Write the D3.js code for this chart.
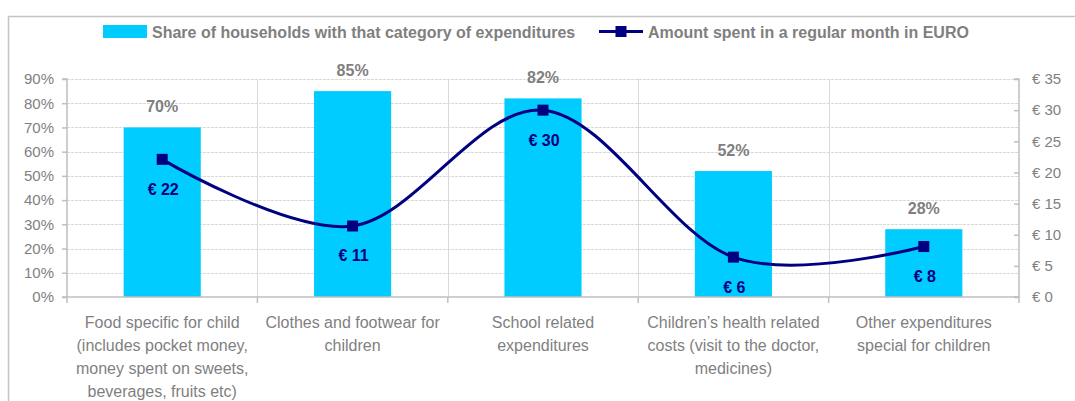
<!DOCTYPE html>
<html>
<head>
<meta charset="utf-8">
<script src="https://cdn.jsdelivr.net/npm/d3@7"></script>
<style>
  html, body { margin: 0; padding: 0; background: #fff; }
  svg { display: block; font-family: "Liberation Sans", Arial, sans-serif; }
</style>
</head>
<body>
<svg id="chart" width="1075" height="401"></svg>
<script>
// ---- data ----
const categories = [
  ["Food specific for child", "(includes pocket money,", "money spent on sweets,", "beverages, fruits etc)"],
  ["Clothes and footwear for", "children"],
  ["School related", "expenditures"],
  ["Children\u2019s health related", "costs (visit to the doctor,", "medicines)"],
  ["Other expenditures", "special for children"]
];
const shareValues = [70, 85, 82, 52, 28];          // % of households
const amountValues = [22.1, 11.4, 30.0, 6.4, 8.1];  // EURO per month
const leftTicks = [0, 10, 20, 30, 40, 50, 60, 70, 80, 90];
const rightTicks = [0, 5, 10, 15, 20, 25, 30, 35];
const seriesNames = ["Share of households with that category of expenditures",
                     "Amount spent in a regular month in EURO"];

// ---- styles ----
const barColor = "#00CCFF";
const lineColor = "#000080";
const textGray = "#7F7F7F";
const axisGray = "#BFBFBF";
const gridGray = "#D9D9D9";

const svg = d3.select("#chart");
const L = 67, R = 1019, T = 79, B = 297;

// outer border
svg.append("rect").attr("x", 8.5).attr("y", 16.5).attr("width", 1200).attr("height", 500)
  .attr("fill", "none").attr("stroke", "#C4C4C4").attr("stroke-width", 1.5);

const idx = categories.map((d, i) => i);
const xCat = d3.scaleBand().domain(idx).range([L, R]).padding(0);
const xBar = d3.scaleBand().domain(idx).range([L, R]).paddingInner(0.595).paddingOuter(0.2975);
const yL = d3.scaleLinear().domain([0, 90]).range([B, T]);
const yR = d3.scaleLinear().domain([0, 35]).range([B, T]);
const cx = i => xCat(i) + xCat.bandwidth() / 2;

// horizontal gridlines
svg.append("g").selectAll("line").data(leftTicks.filter(t => t > 0)).join("line")
  .attr("x1", L).attr("x2", R)
  .attr("y1", d => Math.round(yL(d)) + 0.5).attr("y2", d => Math.round(yL(d)) + 0.5)
  .attr("stroke", gridGray).attr("stroke-width", 1).attr("stroke-dasharray", "3,1");

// vertical gridlines at category boundaries
svg.append("g").selectAll("line").data(idx.slice(1)).join("line")
  .attr("x1", d => Math.round(xCat(d)) + 0.5).attr("x2", d => Math.round(xCat(d)) + 0.5)
  .attr("y1", T).attr("y2", B)
  .attr("stroke", gridGray).attr("stroke-width", 1);

// bars
svg.append("g").selectAll("rect").data(shareValues).join("rect")
  .attr("x", (d, i) => xBar(i)).attr("width", xBar.bandwidth())
  .attr("y", d => yL(d)).attr("height", d => B - yL(d))
  .attr("fill", barColor);

// bar labels
svg.append("g").selectAll("text").data(shareValues).join("text")
  .attr("x", (d, i) => cx(i)).attr("y", d => yL(d) - 15.5)
  .attr("text-anchor", "middle").attr("fill", textGray)
  .attr("font-weight", "bold").attr("font-size", "16px")
  .text(d => d + "%");

// axes
const axisG = svg.append("g");
// left axis
const leftAxis = d3.axisLeft(yL).tickValues(leftTicks).tickSize(5).tickPadding(8).tickFormat(d => d + "%");
const gl = svg.append("g").attr("transform", `translate(${L},0)`).call(leftAxis);
// right axis (ticks inside)
const rightAxis = d3.axisRight(yR).tickValues(rightTicks).tickSize(-5).tickPadding(13).tickFormat(d => "\u20AC " + d);
const gr = svg.append("g").attr("transform", `translate(${R},0)`).call(rightAxis);
// bottom axis
const bottomAxis = d3.axisBottom(xCat).tickValues([]).tickSize(0);
const gb = svg.append("g").attr("transform", `translate(0,${B})`).call(bottomAxis);
gb.selectAll("line.bt").data(idx.concat([idx.length])).join("line").attr("class", "bt")
  .attr("x1", d => d < idx.length ? xCat(d) : R).attr("x2", d => d < idx.length ? xCat(d) : R)
  .attr("y1", 0).attr("y2", 6).attr("stroke", axisGray).attr("stroke-width", 1.5);

[gl, gr, gb].forEach(g => {
  g.select(".domain").attr("stroke", axisGray).attr("stroke-width", 1.5);
  g.selectAll(".tick line").attr("stroke", axisGray).attr("stroke-width", 1.5);
  g.selectAll(".tick text").attr("fill", textGray).attr("font-size", "15px")
    .attr("font-family", "'Liberation Sans', Arial, sans-serif");
});
gl.select(".domain").attr("d", `M-5,${T}H0V${B}H-5`);
gr.select(".domain").attr("d", `M-5,${T}H0V${B}H-5`);
gb.select(".domain").attr("d", `M${L},0H${R}`);

// category labels
const catG = svg.append("g");
categories.forEach((lines, i) => {
  const t = catG.append("text").attr("text-anchor", "middle").attr("fill", textGray)
    .attr("font-size", "16px");
  lines.forEach((ln, j) => {
    t.append("tspan").attr("x", cx(i)).attr("y", 327.5 + j * 23).text(ln);
  });
});

// line series
const line = d3.line().x((d, i) => cx(i)).y(d => yR(d)).curve(d3.curveCardinal.tension(0));
svg.append("path").datum(amountValues).attr("d", line)
  .attr("fill", "none").attr("stroke", lineColor).attr("stroke-width", 3);
const ms = 11;
svg.append("g").selectAll("rect").data(amountValues).join("rect")
  .attr("x", (d, i) => cx(i) - ms / 2).attr("y", d => yR(d) - ms / 2)
  .attr("width", ms).attr("height", ms).attr("fill", lineColor);
svg.append("g").selectAll("text").data(amountValues).join("text")
  .attr("x", (d, i) => cx(i) + 1).attr("y", d => yR(d) + 35.5)
  .attr("text-anchor", "middle").attr("fill", lineColor)
  .attr("font-weight", "bold").attr("font-size", "16px")
  .text(d => "\u20AC " + Math.round(d));

// legend
const lg = svg.append("g");
lg.append("rect").attr("x", 103).attr("y", 25).attr("width", 44).attr("height", 13).attr("fill", barColor);
lg.append("text").attr("x", 152).attr("y", 38).attr("fill", textGray)
  .attr("font-weight", "bold").attr("font-size", "16px").text(seriesNames[0]);
lg.append("line").attr("x1", 599).attr("x2", 643).attr("y1", 31.5).attr("y2", 31.5)
  .attr("stroke", lineColor).attr("stroke-width", 3);
lg.append("rect").attr("x", 621 - ms / 2).attr("y", 31.5 - ms / 2).attr("width", ms).attr("height", ms).attr("fill", lineColor);
lg.append("text").attr("x", 648).attr("y", 38).attr("fill", textGray)
  .attr("font-weight", "bold").attr("font-size", "16px").text(seriesNames[1]);
</script>
</body>
</html>
